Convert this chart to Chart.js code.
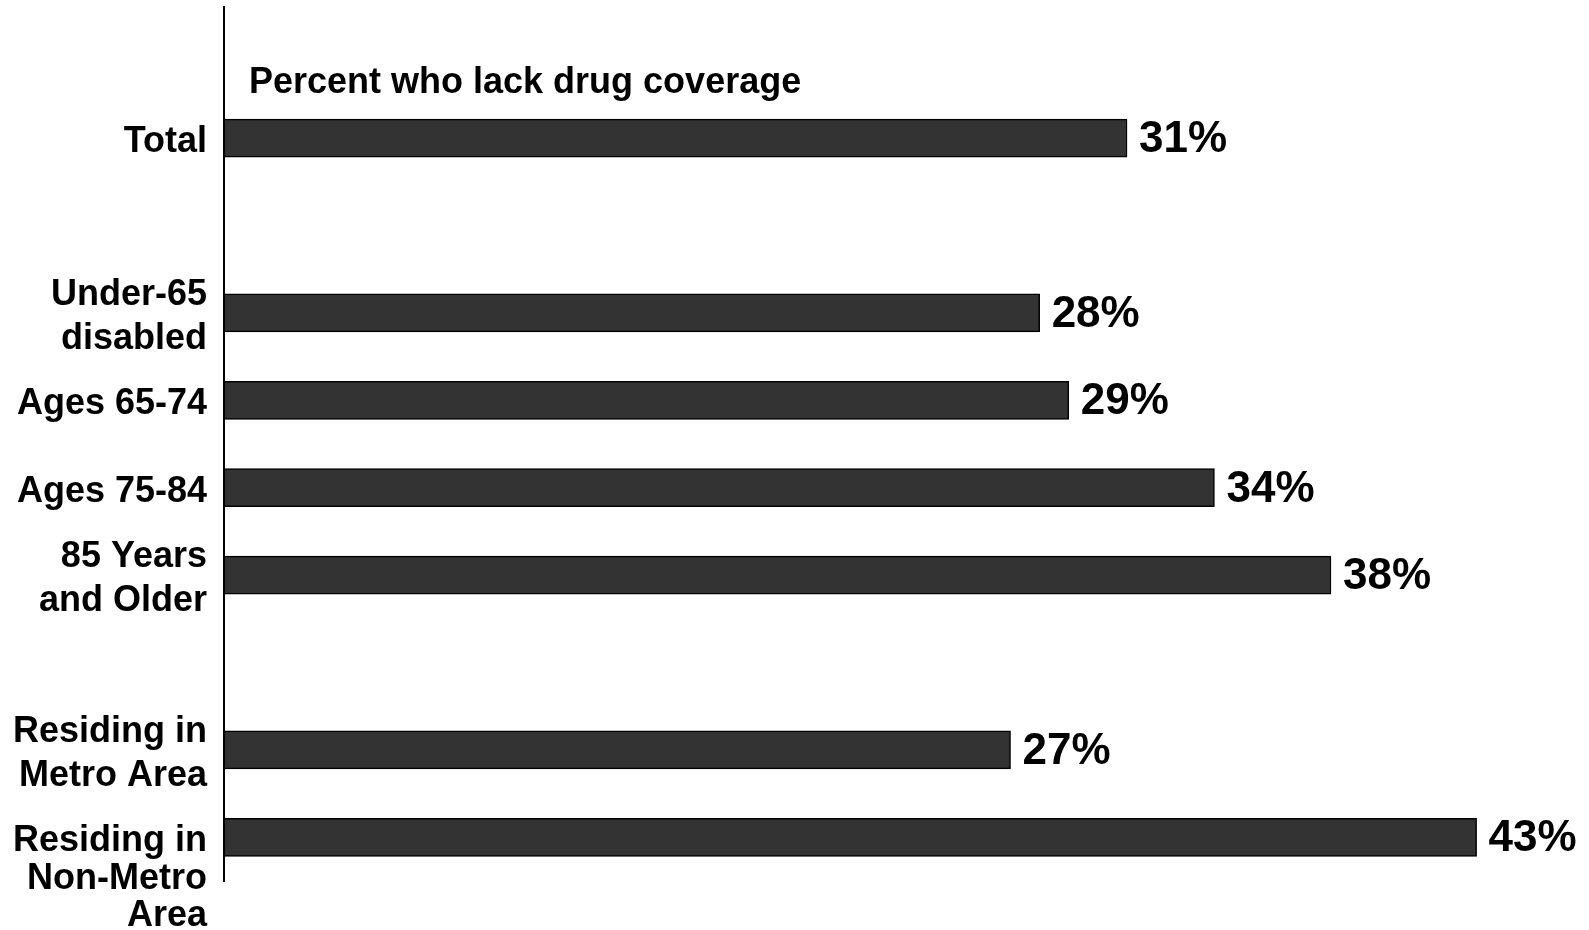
<!DOCTYPE html>
<html>
<head>
<meta charset="utf-8">
<title>Percent who lack drug coverage</title>
<script src="https://cdn.jsdelivr.net/npm/chart.js@4.4.0/dist/chart.umd.min.js"></script>
<style>
  html, body { margin: 0; padding: 0; background: #fff; }
  #wrap { width: 1589px; height: 930px; position: relative; }
</style>
</head>
<body>
<div id="wrap"><canvas id="drugChart"></canvas></div>
<script>
// blank slots ('') keep the gaps between the groups
var categories = [
    [''],
    ['Total'],
    [''],
    ['Under-65', 'disabled'],
    ['Ages 65-74'],
    ['Ages 75-84'],
    ['85 Years', 'and Older'],
    [''],
    ['Residing in', 'Metro Area'],
    ['', '', 'Residing in', 'Non-Metro', 'Area']
];
var lackCoverage = [null, 31, null, 28, 29, 34, 38, null, 27, 43];
var chartTitle = 'Percent who lack drug coverage';

var FONT = '"Liberation Sans", Arial, Helvetica, sans-serif';

// title + % labels next to each bar
var labelPlugin = {
    id: 'labelPlugin',
    afterDatasetsDraw: function(chart){
        var ctx = chart.ctx;
        var area = chart.chartArea;
        ctx.save();
        ctx.fillStyle = '#000';
        ctx.textBaseline = 'middle';
        ctx.textAlign = 'left';
        ctx.font = 'bold 36px ' + FONT;
        ctx.fillText(chartTitle, area.left + 25, area.top + 76);

        ctx.font = 'bold 44px ' + FONT;
        var meta = chart.getDatasetMeta(0);
        meta.data.forEach(function(bar, i){
            var v = lackCoverage[i];
            if (v === null) return;
            ctx.fillText(v + '%', bar.x + 12, bar.y + 2);
        });
        ctx.restore();
    }
};

var ctx = document.getElementById('drugChart');
var drugChart = new Chart(ctx, {
    type: 'bar',
    data: {
        labels: categories,
        datasets: [{
            label: chartTitle,
            data: lackCoverage,
            backgroundColor: '#333333',
            borderColor: '#000',
            borderWidth: 1.5,
            borderSkipped: false,
            barThickness: 38
        }]
    },
    options: {
        indexAxis: 'y',
        responsive: true,
        maintainAspectRatio: false,
        animation: false,
        layout: { padding: { top: 7, bottom: 49, left: 0, right: 25 } },
        plugins: {
            legend: { display: false },
            tooltip: { enabled: false }
        },
        scales: {
            x: {
                display: false,
                min: 0,
                max: 46
            },
            y: {
                offset: true,
                grid: { display: false, drawTicks: false },
                border: { display: true, color: '#000', width: 2 },
                afterFit: function(scale){
                    scale.width = 224;
                    // multi-line labels shouldn't push the plot area in
                    scale.paddingTop = 0;
                    scale.paddingBottom = 0;
                },
                ticks: {
                    autoSkip: false,
                    padding: 17,
                    labelOffset: 4,
                    color: '#000',
                    font: function(c){
                        var lines = categories[c.index] ? categories[c.index].length : 1;
                        return { family: FONT, size: 36, weight: 'bold', lineHeight: lines > 3 ? 1.04 : 1.21 };
                    }
                }
            }
        }
    },
    plugins: [labelPlugin]
});
</script>
</body>
</html>
